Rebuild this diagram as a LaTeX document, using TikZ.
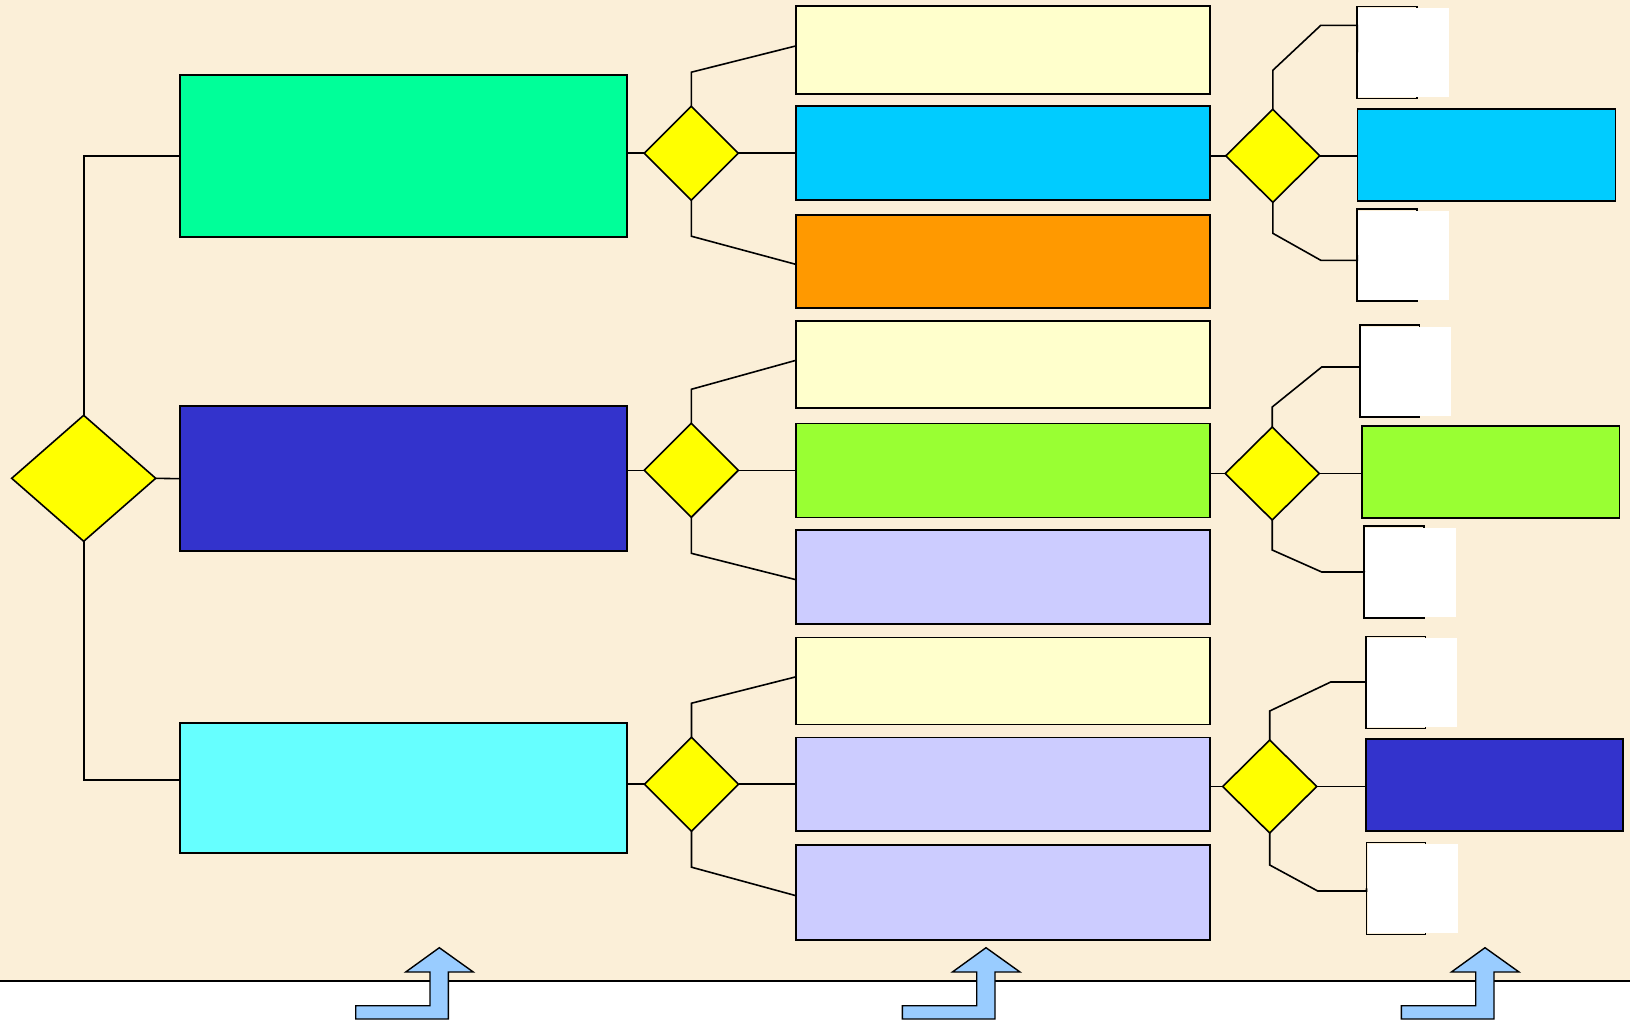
\documentclass[tikz,border=0pt]{standalone}
\usetikzlibrary{shapes.geometric}

\definecolor{parchment}{RGB}{251,239,216}
\definecolor{signal}{RGB}{255,255,0}
\definecolor{mint}{RGB}{0,255,153}
\definecolor{indigo}{RGB}{51,51,204}
\definecolor{aqua}{RGB}{102,255,255}
\definecolor{cream}{RGB}{255,255,204}
\definecolor{sky}{RGB}{0,204,255}
\definecolor{amber}{RGB}{255,153,0}
\definecolor{lime}{RGB}{153,255,51}
\definecolor{lavender}{RGB}{204,204,255}
\definecolor{arrowblue}{RGB}{153,204,255}

\begin{document}
\begin{tikzpicture}[x=1pt, y=-1pt,
    decision/.style={diamond, draw, fill=signal, line width=1.6pt, inner sep=0pt, outer sep=0pt},
    box/.style={rectangle, draw, line width=1.6pt, inner sep=0pt, outer sep=0pt},
    dims/.style 2 args={minimum width=#1pt, minimum height=#2pt},
    link/.style={line width=1.6pt},
    bentarrow/.style={line width=1.4pt, fill=arrowblue, line join=miter}]
  \useasboundingbox (0,0) rectangle (1630,1021);
  \fill[white] (0,0) rectangle (1630,1021);
  \fill[parchment] (0,0) rectangle (1630,980);
  \draw[link] (0,981) -- (1630,981);

  \node[decision, dims={144}{126}] (root) at (83.7,478.3) {};
  \node[box, fill=mint, dims={447}{162}] (opt1) at (403.4,155.8) {};
  \node[box, fill=indigo, dims={447}{145}] (opt2) at (403.4,478.7) {};
  \node[box, fill=aqua, dims={447}{130}] (opt3) at (403.4,788.2) {};

  \node[decision, dims={94}{94}] (q1) at (691.3,153.2) {};
  \node[decision, dims={94}{94}] (q2) at (691.3,470.3) {};
  \node[decision, dims={94}{94}] (q3) at (691.5,784.2) {};

  \node[box, fill=cream, dims={414}{88}] (a1) at (1003,49.9) {};
  \node[box, fill=sky, dims={414}{94}] (a2) at (1003,152.8) {};
  \node[box, fill=amber, dims={414}{93}] (a3) at (1003,261.4) {};
  \node[box, fill=cream, dims={414}{87}] (a4) at (1003,364.3) {};
  \node[box, fill=lime, dims={414}{94}] (a5) at (1003,470.5) {};
  \node[box, fill=lavender, dims={414}{94}] (a6) at (1003,576.7) {};
  \node[box, fill=cream, dims={414}{87}] (a7) at (1003,680.8) {};
  \node[box, fill=lavender, dims={414}{93.5}] (a8) at (1003,784.2) {};
  \node[box, fill=lavender, dims={414}{95}] (a9) at (1003,892.7) {};

  \node[decision, dims={94}{93}] (p1) at (1272.8,155.8) {};
  \node[decision, dims={94}{93}] (p2) at (1272.2,473.5) {};
  \node[decision, dims={94}{93}] (p3) at (1269.7,786.5) {};

  \node[box, fill=sky, dims={258}{92}] (c1) at (1486.5,154.7) {};
  \node[box, fill=lime, dims={257.5}{92}] (c2) at (1490.8,472.2) {};
  \node[box, fill=indigo, dims={257}{92}] (c3) at (1494.7,785.2) {};

  \node[box, dims={60}{92}] (s1) at (1387.2,52.3) {};
  \node[box, dims={60}{92}] (s2) at (1387.2,255) {};
  \node[box, dims={59.5}{92}] (s3) at (1389.7,371.2) {};
  \node[box, dims={60}{92}] (s4) at (1394.2,572.2) {};
  \node[box, dims={59.5}{92}] (s5) at (1395.7,682.5) {};
  \node[box, dims={59}{92}] (s6) at (1396,888.3) {};
  \foreach \i in {1,...,6}
    \fill[white] ([shift={(1.2,1.6)}]s\i.north west) rectangle ([shift={(32,-1.2)}]s\i.south east);

  \draw[link] (root.north) |- (opt1.west);
  \draw[link] (root.east) -- (opt2.west);
  \draw[link] (root.south) |- ([yshift=8pt]opt3.west);

  \foreach \i/\u/\m/\d in {1/a1/a2/a3, 2/a4/a5/a6, 3/a7/a8/a9} {
    \draw[link] (q\i.west -| opt\i.east) -- (q\i.west);
    \draw[link] (q\i.north) -- ++(0,-34) -- ([yshift=4pt]\u.west);
    \draw[link] (q\i.east) -- (q\i.east -| \m.west);
    \draw[link] (q\i.south) -- ++(0,36) -- ([yshift=-3pt]\d.west);
    \draw[link] (p\i.west -| \m.east) -- (p\i.west);
    \draw[link] (p\i.east) -- (p\i.east -| c\i.west);
  }

  \draw[link] (p1.north) -- ++(0,-39) -- ++(48,-45) -| (s1.west);
  \draw[link] (p1.south) -- ++(0,31) -- ++(48,27) -| (s2.west);
  \draw[link] (p2.north) -- ++(0,-20) -- ++(49.5,-40) -| (s3.west);
  \draw[link] (p2.south) -- ++(0,30) -- ++(49.5,22) -| (s4.west);
  \draw[link] (p3.north) -- ++(0,-29) -- ++(61,-29) -| (s5.west);
  \draw[link] (p3.south) -- ++(0,32) -- ++(48,26) -| (s6.west);

  \foreach \ax in {355.7,902.4,1401.4}
    \draw[bentarrow] (\ax,1005.7) -- ++(74.3,0) -- ++(0,-33.7) -- ++(-24.3,0)
      -- ++(33.6,-24.3) -- ++(34,24.3) -- ++(-25,0) -- ++(0,47) -- ++(-92.6,0) -- cycle;
\end{tikzpicture}
\end{document}
